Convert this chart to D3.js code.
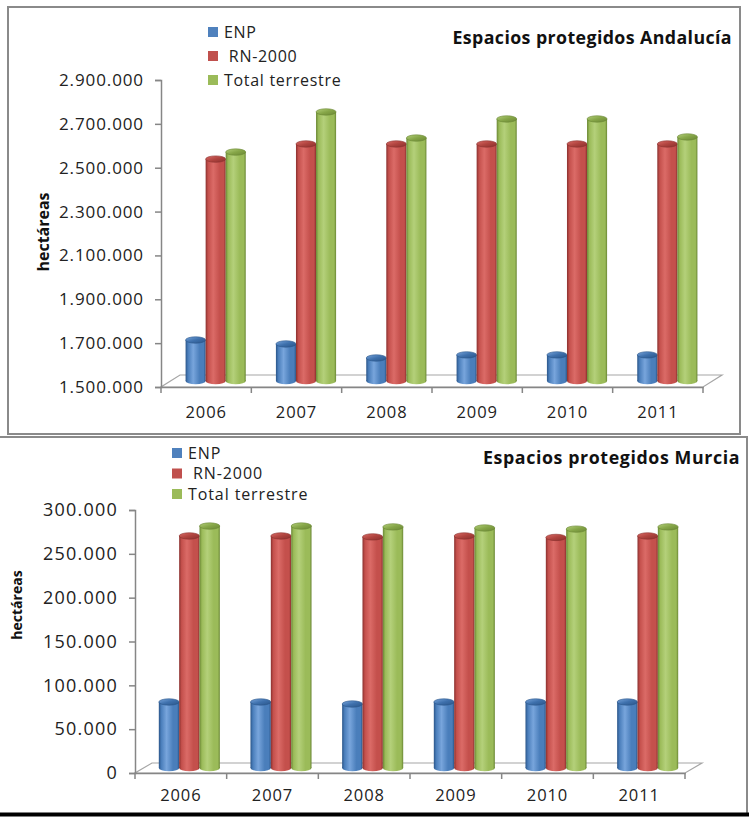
<!DOCTYPE html>
<html><head><meta charset="utf-8">
<script src="https://cdn.jsdelivr.net/npm/d3@7"></script>
<style>
  body { margin: 0; background: #fff; }
  svg { display: block; font-family: "Open Sans", "DejaVu Sans", sans-serif; }
</style>
</head><body>
<svg id="chart" width="749" height="822"></svg>
<script>
// Protected areas (hectares) by year
const years = ["2006", "2007", "2008", "2009", "2010", "2011"];
const seriesNames = ["ENP", " RN-2000", "Total terrestre"];

const andaluciaENP   = [1687000, 1669000, 1605000, 1619000, 1619000, 1619000];
const andaluciaRN    = [2512000, 2581000, 2581000, 2581000, 2581000, 2581000];
const andaluciaTotal = [2544000, 2727000, 2608000, 2695000, 2695000, 2613000];
const andaluciaTicks = [1500000, 1700000, 1900000, 2100000, 2300000, 2500000, 2700000, 2900000];

const murciaENP   = [75300, 75300, 73000, 75300, 75300, 75300];
const murciaRN    = [264700, 264700, 263600, 264700, 263000, 264700];
const murciaTotal = [276000, 276000, 275000, 273800, 272500, 275000];
const murciaTicks = [0, 50000, 100000, 150000, 200000, 250000, 300000];

const fmt = d3.formatLocale({ decimal: ",", thousands: ".", grouping: [3], currency: ["", "€"] }).format(",d");

const svg = d3.select("#chart");
const defs = svg.append("defs");

// Cylinder shading per series: dark edge -> highlight -> dark edge
const palettes = [
  { key: "blue",  swatch: "#4F81BD", dark: "#2A5589", mid: "#4A7EBB", light: "#78A5DC", top: "#3E70AC", rim: "#2A5589" },
  { key: "red",   swatch: "#C0504D", dark: "#8A302E", mid: "#C4504C", light: "#DB6B67", top: "#B0443F", rim: "#8A302E" },
  { key: "green", swatch: "#9BBB59", dark: "#6A8734", mid: "#9BBB59", light: "#B4D07A", top: "#86A648", rim: "#6A8734" }
];
palettes.forEach(p => {
  const g = defs.append("linearGradient").attr("id", "body-" + p.key)
    .attr("x1", "0%").attr("x2", "100%").attr("y1", "0%").attr("y2", "0%");
  [[0, p.dark], [0.12, p.mid], [0.38, p.light], [0.7, p.mid], [0.9, p.mid], [1, p.dark]]
    .forEach(([o, c]) => g.append("stop").attr("offset", o).attr("stop-color", c));
  const t = defs.append("linearGradient").attr("id", "top-" + p.key)
    .attr("x1", "0%").attr("x2", "100%").attr("y1", "0%").attr("y2", "100%");
  [[0, p.light], [0.5, p.top], [1, p.dark]]
    .forEach(([o, c]) => t.append("stop").attr("offset", o).attr("stop-color", c));
});

function drawPanel(cfg) {
  const g = svg.append("g");

  // frame
  g.append("rect")
    .attr("x", cfg.frame[0]).attr("y", cfg.frame[1])
    .attr("width", cfg.frame[2]).attr("height", cfg.frame[3])
    .attr("fill", "#fff").attr("stroke", "#8a8a8a").attr("stroke-width", 2);

  const x = d3.scaleBand().domain(years).range([cfg.x0, cfg.x1]).padding(0);
  const y = d3.scaleLinear().domain(cfg.domain).range([cfg.yBase, cfg.yTop]);
  const dx = cfg.depth[0], dy = cfg.depth[1];

  // floor
  const fl = [[cfg.x0, cfg.yBase], [cfg.x1, cfg.yBase], [cfg.x1 + dx, cfg.yBase + dy], [cfg.x0 + dx, cfg.yBase + dy]];
  g.append("path").attr("d", "M" + fl.join("L") + "Z")
    .attr("fill", "#fff").attr("stroke", "#a6a6a6").attr("stroke-width", 1.2);

  // value axis
  const yAxis = d3.axisLeft(y).tickValues(cfg.ticks).tickFormat(fmt).tickSize(6).tickPadding(cfg.tickPad);
  const ya = g.append("g").attr("transform", `translate(${cfg.x0},0)`).call(yAxis);
  ya.select(".domain").attr("stroke", "#868686").attr("stroke-width", 1.5);
  ya.selectAll(".tick line").attr("stroke", "#868686").attr("stroke-width", 1.5);
  ya.selectAll(".tick text").attr("font-size", cfg.tickFont).attr("fill", "#222")
    .attr("letter-spacing", cfg.tickSpacing)
    .attr("font-family", "'Open Sans', sans-serif");

  // category axis
  const xAxis = d3.axisBottom(x).tickSize(0).tickPadding(cfg.yearPad);
  const xa = g.append("g").attr("transform", `translate(0,${cfg.yBase})`).call(xAxis);
  xa.select(".domain").attr("stroke", "#868686").attr("stroke-width", 1.5);
  xa.selectAll(".tick text").attr("font-size", 16.5).attr("fill", "#222")
    .attr("letter-spacing", 0.9)
    .attr("font-family", "'Open Sans', sans-serif");
  // boundary ticks between categories
  const bounds = years.map(d => x(d)).concat([cfg.x1]);
  g.selectAll(".bound").data(bounds).join("line")
    .attr("x1", d => d).attr("x2", d => d)
    .attr("y1", cfg.yBase).attr("y2", cfg.yBase + 6)
    .attr("stroke", "#868686").attr("stroke-width", 1.5);

  // cylinders
  const series = [cfg.enp, cfg.rn, cfg.total];
  const bw = x.bandwidth() * 0.222;
  const ry = 3.2;
  years.forEach((yr, i) => {
    const cx0 = x(yr) + x.bandwidth() / 2 + dx / 2 - bw * 1.5;
    series.forEach((vals, s) => {
      const p = palettes[s];
      const left = cx0 + s * bw;
      const yb = y(cfg.domain[0]) + dy / 2;
      const yt = y(vals[i]) + dy / 2;
      const c = g.append("g");
      c.append("ellipse").attr("cx", left + bw / 2).attr("cy", yb).attr("rx", bw / 2).attr("ry", ry)
        .attr("fill", `url(#body-${p.key})`);
      c.append("rect").attr("x", left).attr("y", yt).attr("width", bw).attr("height", yb - yt)
        .attr("fill", `url(#body-${p.key})`);
      c.append("ellipse").attr("cx", left + bw / 2).attr("cy", yt).attr("rx", bw / 2).attr("ry", ry)
        .attr("fill", `url(#top-${p.key})`).attr("stroke", p.rim).attr("stroke-width", 0.6);
    });
  });

  // legend
  seriesNames.forEach((name, s) => {
    const ly = cfg.legend[1] + s * cfg.legendStep;
    g.append("rect").attr("x", cfg.legend[0]).attr("y", ly - 5).attr("width", 10).attr("height", 10)
      .attr("fill", palettes[s].swatch);
    g.append("text").attr("x", cfg.legend[0] + 16).attr("y", ly).attr("dy", "0.35em")
      .attr("font-size", cfg.legendFont).attr("letter-spacing", cfg.legendSpacing).attr("fill", "#222")
      .attr("xml:space", "preserve")
      .style("white-space", "pre").text(name);
  });

  // title
  g.append("text").attr("x", cfg.title[0]).attr("y", cfg.title[1]).attr("dy", "0.35em")
    .attr("text-anchor", "end").attr("font-weight", "bold").attr("font-size", 17.8)
    .attr("letter-spacing", cfg.titleSpacing)
    .attr("fill", "#111").text(cfg.titleText);

  // axis title
  g.append("text")
    .attr("transform", `translate(${cfg.yTitle[0]},${cfg.yTitle[1]}) rotate(-90)`)
    .attr("text-anchor", "middle").attr("dy", "0.35em")
    .attr("font-weight", "bold").attr("font-size", cfg.yTitleFont).attr("fill", "#111")
    .text("hectáreas");
}

drawPanel({
  frame: [8, 7, 732, 427],
  x0: 161, x1: 703, yBase: 387, yTop: 80,
  domain: [1500000, 2900000], ticks: andaluciaTicks,
  depth: [19, -12],
  enp: andaluciaENP, rn: andaluciaRN, total: andaluciaTotal,
  tickFont: 17, tickSpacing: 0.9, tickPad: 11, yearPad: 19,
  legend: [208, 32], legendStep: 24, legendFont: 16, legendSpacing: 0.7,
  title: [732, 38], titleText: "Espacios protegidos Andalucía", titleSpacing: 0.4,
  yTitle: [43, 232], yTitleFont: 16
});

drawPanel({
  frame: [-1, 437, 748, 377],
  x0: 135, x1: 685, yBase: 773, yTop: 510,
  domain: [0, 300000], ticks: murciaTicks,
  depth: [17, -10],
  enp: murciaENP, rn: murciaRN, total: murciaTotal,
  tickFont: 18, tickSpacing: 1.2, tickPad: 11, yearPad: 16,
  legend: [172, 453], legendStep: 20.5, legendFont: 16, legendSpacing: 0.9,
  title: [740, 458], titleText: "Espacios protegidos Murcia", titleSpacing: 0.6,
  yTitle: [17, 605], yTitleFont: 14
});

// heavy bottom rule under the lower panel
svg.append("line").attr("x1", 0).attr("x2", 749).attr("y1", 814.5).attr("y2", 814.5)
  .attr("stroke", "#000").attr("stroke-width", 4);
</script>
</body></html>
